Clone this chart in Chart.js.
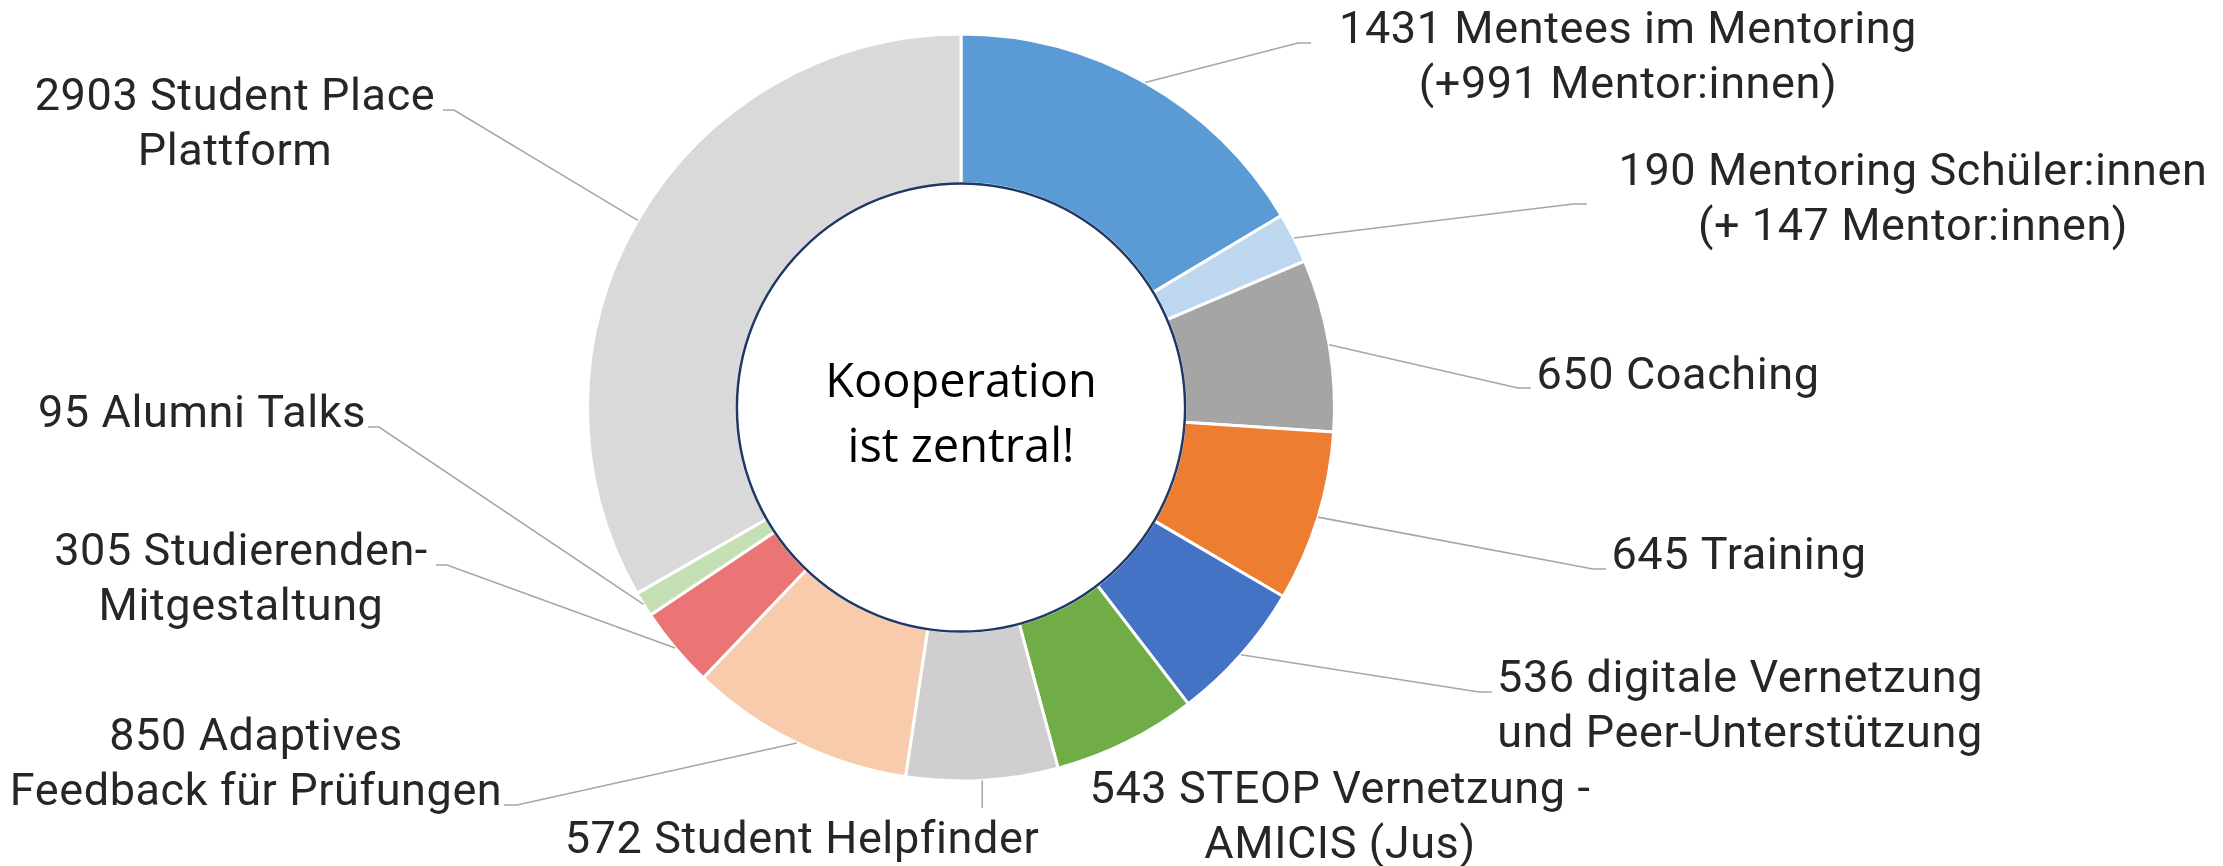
<!DOCTYPE html>
<html>
<head>
<meta charset="utf-8">
<script src="https://cdn.jsdelivr.net/npm/chart.js@4.4.1/dist/chart.umd.min.js"></script>
<style>
html,body{margin:0;padding:0;background:#fff;}
#wrap{width:2223px;height:866px;position:relative;}
</style>
</head>
<body>
<div id="wrap"><canvas id="c"></canvas></div>
<script>
// ---- data ----
const categories = ["Mentees im Mentoring", "Mentoring Schüler:innen", "Coaching", "Training",
  "digitale Vernetzung und Peer-Unterstützung", "STEOP Vernetzung - AMICIS (Jus)", "Student Helpfinder",
  "Adaptives Feedback für Prüfungen", "Studierenden-Mitgestaltung", "Alumni Talks", "Student Place Plattform"];
const values = [1431, 190, 650, 645, 536, 543, 572, 850, 305, 95, 2903];
const labelLines = [
  ["{v} Mentees im Mentoring", "(+991 Mentor:innen)"],
  ["{v} Mentoring Schüler:innen", "(+ 147 Mentor:innen)"],
  ["{v} Coaching"],
  ["{v} Training"],
  ["{v} digitale Vernetzung", "und Peer-Unterstützung"],
  ["{v} STEOP Vernetzung -", "AMICIS (Jus)"],
  ["{v} Student Helpfinder"],
  ["{v} Adaptives", "Feedback für Prüfungen"],
  ["{v} Studierenden-", "Mitgestaltung"],
  ["{v} Alumni Talks"],
  ["{v} Student Place", "Plattform"]
];
const colors = ["#5B9BD5", "#BDD7EE", "#A5A5A5", "#ED7D31", "#4472C4", "#70AD47", "#D0CECE",
  "#F8CBAD", "#EB7575", "#C5E0B4", "#D9D9D9"];
const centerText = ["Kooperation", "ist zentral!"];

// ---- label layout (text anchor + leader elbow) ----
const labelLayout = [
  {cx: 1628, b: 43,  elbow: [1298, 43],  tick: 1311},
  {cx: 1913, b: 185, elbow: [1573, 204], tick: 1587},
  {cx: 1678, b: 389, elbow: [1518, 388], tick: 1531},
  {cx: 1739, b: 569, elbow: [1593, 569], tick: 1606},
  {cx: 1740, b: 692, elbow: [1479, 692], tick: 1492},
  {cx: 1340, b: 803, elbow: null},
  {cx: 802,  b: 853, vertical: 808},
  {cx: 256,  b: 750, elbow: [517, 805], tick: 504},
  {cx: 241,  b: 565, elbow: [447, 565], tick: 436},
  {cx: 202,  b: 427, elbow: [379, 427], tick: 368},
  {cx: 235,  b: 110, elbow: [454, 110], tick: 443}
];
const lineHeight = 55;

const labelPlugin = {
  id: 'labels',
  afterDatasetsDraw(chart) {
    const ctx = chart.ctx;
    const meta = chart.getDatasetMeta(0);
    const arc0 = meta.data[0];
    ctx.save();
    ctx.beginPath();
    ctx.arc(arc0.x, arc0.y, arc0.innerRadius, 0, Math.PI * 2);
    ctx.strokeStyle = "#1F3864";
    ctx.lineWidth = 2.5;
    ctx.stroke();
    ctx.fillStyle = "#000";
    ctx.font = "47px 'Open Sans'";
    ctx.textAlign = "center";
    ctx.textBaseline = "alphabetic";
    ctx.fillText(centerText[0], arc0.x, arc0.y - 11);
    ctx.fillText(centerText[1], arc0.x, arc0.y + 54);
    ctx.restore();

    ctx.save();
    meta.data.forEach((arc, i) => {
      const L = labelLayout[i];
      const mid = (arc.startAngle + arc.endAngle) / 2;
      const px = arc.x + Math.cos(mid) * arc.outerRadius;
      const py = arc.y + Math.sin(mid) * arc.outerRadius;
      ctx.strokeStyle = "#A6A6A6";
      ctx.lineWidth = 1.6;
      if (L.elbow) {
        ctx.beginPath();
        ctx.moveTo(px, py);
        ctx.lineTo(L.elbow[0], L.elbow[1]);
        ctx.lineTo(L.tick, L.elbow[1]);
        ctx.stroke();
      } else if (L.vertical) {
        ctx.beginPath();
        ctx.moveTo(px, py);
        ctx.lineTo(px, L.vertical);
        ctx.stroke();
      }
      ctx.fillStyle = "#262626";
      ctx.font = "45px Roboto";
      if ('letterSpacing' in ctx) ctx.letterSpacing = "0.6px";
      ctx.textAlign = "center";
      ctx.textBaseline = "alphabetic";
      labelLines[i].forEach((t, k) => {
        ctx.fillText(t.replace("{v}", values[i]), L.cx, L.b + k * lineHeight);
      });
    });
    ctx.restore();
  }
};

new Chart(document.getElementById('c'), {
  type: 'doughnut',
  data: {
    labels: categories,
    datasets: [{
      data: values,
      backgroundColor: colors,
      borderColor: "#FFFFFF",
      borderWidth: 3
    }]
  },
  options: {
    responsive: true,
    maintainAspectRatio: false,
    animation: false,
    cutout: '60%',
    layout: {padding: {left: 586, right: 887, top: 32, bottom: 83}},
    plugins: {legend: {display: false}, tooltip: {enabled: false}}
  },
  plugins: [labelPlugin]
});
</script>
</body>
</html>
